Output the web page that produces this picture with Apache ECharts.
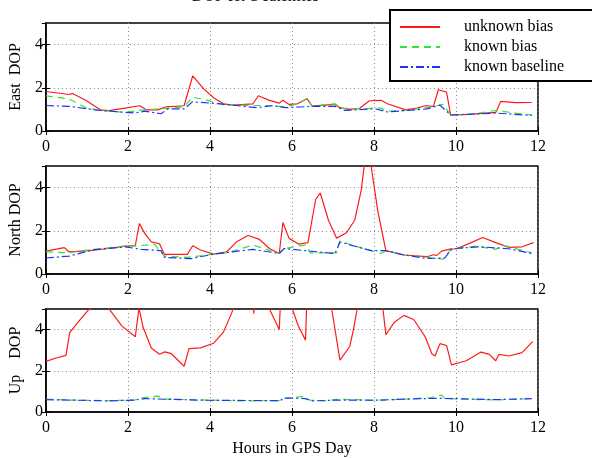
<!DOCTYPE html>
<html>
<head>
<meta charset="utf-8">
<script src="https://cdn.jsdelivr.net/npm/echarts@6/dist/echarts.min.js"></script>
<style>
  html, body { margin: 0; padding: 0; background: #fff; }
  #chart { width: 592px; height: 458px; }
</style>
</head>
<body>
<div id="chart"></div>
<script>
// [hours, DOP] pairs
const eastUnknown = [[0,1.83],[0.57,1.69],[0.65,1.74],[0.97,1.42],[1.33,0.98],[1.53,0.94],[1.93,1.06],[2.29,1.17],[2.45,0.98],[2.73,0.98],[2.93,1.12],[3.37,1.17],[3.58,2.55],[3.85,1.95],[4.09,1.54],[4.33,1.26],[4.57,1.2],[5.05,1.26],[5.18,1.63],[5.45,1.42],[5.69,1.29],[5.78,1.42],[5.93,1.23],[6.13,1.26],[6.37,1.49],[6.49,1.15],[7.05,1.23],[7.17,1.08],[7.37,1.0],[7.65,1.05],[7.89,1.4],[8.17,1.42],[8.33,1.26],[8.77,0.98],[9.05,1.06],[9.25,1.17],[9.45,1.14],[9.57,1.91],[9.77,1.8],[9.87,0.74],[10.33,0.77],[10.97,0.86],[11.09,1.37],[11.45,1.31],[11.85,1.32]];
const eastKnownBias = [[0,1.63],[0.57,1.48],[0.97,1.08],[1.33,0.95],[1.93,0.86],[2.25,0.95],[2.73,1.02],[3.37,1.11],[3.57,1.57],[3.93,1.42],[4.33,1.22],[5.05,1.18],[5.53,1.18],[5.85,1.11],[6.09,1.23],[6.37,1.51],[6.49,1.15],[7.05,1.26],[7.21,1.05],[7.69,1.03],[8.17,1.06],[8.33,0.92],[8.73,0.95],[9.29,1.08],[9.69,1.23],[9.87,0.74],[10.33,0.77],[10.97,0.95],[11.45,0.83],[11.85,0.74]];
const eastBaseline = [[0,1.18],[0.57,1.14],[1.33,0.95],[2.17,0.83],[2.41,0.92],[2.81,0.8],[2.97,1.02],[3.37,1.02],[3.57,1.35],[4.25,1.26],[5.13,1.08],[5.53,1.17],[5.85,1.08],[6.17,1.11],[6.49,1.14],[7.05,1.14],[7.29,0.95],[8.01,1.03],[8.33,0.88],[9.29,1.02],[9.61,1.2],[9.87,0.74],[10.97,0.83],[11.85,0.72]];

const northUnknown = [[0,1.06],[0.45,1.22],[0.57,1.02],[1.05,1.08],[1.53,1.18],[1.93,1.29],[2.18,1.32],[2.28,2.34],[2.41,1.88],[2.57,1.49],[2.77,1.4],[2.89,0.91],[3.45,0.91],[3.58,1.31],[3.77,1.11],[4.09,0.92],[4.41,1.03],[4.65,1.49],[4.93,1.78],[5.21,1.6],[5.45,1.18],[5.69,0.95],[5.78,2.38],[5.93,1.65],[6.17,1.38],[6.39,1.45],[6.58,3.46],[6.69,3.75],[6.89,2.49],[7.09,1.66],[7.33,1.91],[7.53,2.49],[7.69,3.88],[7.8,5.6],[7.9,5.4],[8.09,2.95],[8.29,1.08],[8.73,0.88],[9.29,0.8],[9.45,0.89],[9.53,0.86],[9.65,1.06],[9.85,1.15],[10.01,1.17],[10.33,1.42],[10.65,1.69],[10.97,1.45],[11.29,1.23],[11.61,1.26],[11.89,1.45]];
const northKnownBias = [[0,1.03],[0.57,0.98],[1.13,1.14],[1.93,1.29],[2.18,1.29],[2.65,1.38],[2.81,0.98],[2.89,0.83],[3.45,0.77],[4.09,0.92],[4.41,0.98],[5.05,1.34],[5.69,0.95],[5.81,1.18],[6.33,1.34],[6.45,0.98],[7.09,0.98],[7.17,1.54],[7.45,1.34],[8.17,0.95],[8.29,1.08],[8.73,0.88],[9.29,0.77],[9.69,0.69],[9.85,1.08],[10.01,1.17],[10.49,1.29],[10.97,1.14],[11.13,1.34],[11.85,0.98]];
const northBaseline = [[0,0.74],[0.57,0.83],[1.13,1.11],[1.93,1.26],[2.33,1.14],[2.81,1.08],[2.89,0.77],[3.53,0.71],[4.09,0.92],[5.05,1.14],[5.69,0.95],[5.81,1.18],[6.33,1.08],[7.05,0.95],[7.17,1.48],[7.93,1.08],[8.29,1.08],[8.73,0.88],[9.29,0.72],[9.73,0.74],[9.89,1.17],[10.57,1.26],[11.29,1.17],[11.85,0.95]];

const upUnknown = [[0,2.46],[0.25,2.62],[0.49,2.75],[0.58,3.85],[0.81,4.42],[1.05,4.98],[1.3,5.3],[1.53,5.03],[1.85,4.18],[2.18,3.65],[2.27,5.05],[2.37,4.11],[2.57,3.11],[2.77,2.8],[2.9,2.92],[3.06,2.83],[3.37,2.22],[3.49,3.08],[3.77,3.11],[4.09,3.34],[4.33,3.88],[4.53,4.8],[4.8,6.5],[5.03,6.5],[5.07,4.77],[5.11,6.5],[5.3,6.2],[5.45,5.0],[5.69,4.0],[5.72,5.3],[5.85,6.5],[6.01,5.0],[6.15,4.2],[6.33,3.49],[6.36,5.2],[6.6,7.0],[6.97,5.0],[7.17,2.52],[7.41,3.18],[7.5,4.0],[7.59,5.0],[7.8,7.0],[8.1,6.5],[8.22,5.0],[8.29,3.75],[8.49,4.34],[8.73,4.69],[8.97,4.49],[9.25,3.65],[9.41,2.83],[9.49,2.72],[9.61,3.32],[9.77,3.23],[9.89,2.29],[10.25,2.49],[10.61,2.91],[10.81,2.8],[10.97,2.49],[11.05,2.8],[11.29,2.72],[11.61,2.88],[11.87,3.42]];
const upKnownBias = [[0,0.62],[0.57,0.58],[1.53,0.55],[2.17,0.58],[2.33,0.69],[2.73,0.77],[2.89,0.63],[3.93,0.58],[4.73,0.54],[5.69,0.55],[5.85,0.68],[6.25,0.75],[6.45,0.57],[6.81,0.54],[7.17,0.62],[8.01,0.57],[8.73,0.62],[9.37,0.69],[9.65,0.82],[9.73,0.66],[10.97,0.58],[11.85,0.65]];
const upBaseline = [[0,0.6],[1.53,0.54],[2.17,0.58],[2.41,0.65],[2.89,0.62],[3.93,0.57],[5.69,0.55],[5.85,0.68],[6.33,0.65],[6.49,0.54],[7.13,0.58],[8.01,0.57],[9.13,0.65],[9.53,0.66],[9.93,0.65],[10.97,0.6],[11.85,0.65]];

const panelNames = ['East  DOP', 'North DOP', 'Up    DOP'];
const seriesNames = ['unknown bias', 'known bias', 'known baseline'];
const xTicks = [0, 2, 4, 6, 8, 10, 12];
const yTicks = [0, 2, 4];

const panels = [
  [eastUnknown, eastKnownBias, eastBaseline],
  [northUnknown, northKnownBias, northBaseline],
  [upUnknown, upKnownBias, upBaseline]
];

const font = 'Liberation Serif';
const lineStyles = [
  { color: '#ff1a1a', width: 1.2, type: 'solid' },
  { color: '#2ee82e', width: 1.2, type: [7, 5] },
  { color: '#2030ff', width: 1.2, type: [8, 3, 2, 3] }
];

const gridTops = [23, 166, 309];
const grids = gridTops.map(t => ({
  left: 39, width: 499, top: t, height: 108,
  show: true, borderColor: '#000', borderWidth: 1.5, backgroundColor: 'transparent'
}));

const xAxes = [];
const yAxes = [];
gridTops.forEach((t, i) => {
  xAxes.push({
    type: 'value', gridIndex: i, min: 0, max: 12, interval: 2,
    name: i === 2 ? 'Hours in GPS Day' : '',
    nameLocation: 'middle', nameGap: 29,
    nameTextStyle: { fontFamily: font, fontSize: 16, color: '#000' },
    axisLine: { lineStyle: { color: '#000', width: 1.5 } },
    axisTick: { inside: true, length: 4, lineStyle: { color: '#000' } },
    axisLabel: { fontFamily: font, fontSize: 16, color: '#000', margin: 8,
      formatter: v => xTicks.includes(v) ? String(v) : '' },
    splitLine: { show: true, lineStyle: { color: '#888', type: [1, 3] } }
  });
  xAxes.push({
    type: 'value', gridIndex: i, min: 0, max: 12, interval: 2, position: 'top',
    axisLine: { show: false },
    axisTick: { inside: true, length: 4, lineStyle: { color: '#000' } },
    axisLabel: { show: false }, splitLine: { show: false }
  });
  yAxes.push({
    type: 'value', gridIndex: i, min: 0, max: 5, interval: 2,
    name: panelNames[i], nameLocation: 'middle', nameGap: 16, nameRotate: 90,
    nameTextStyle: { fontFamily: font, fontSize: 16, color: '#000' },
    axisLine: { show: true, lineStyle: { color: '#000', width: 1.5 } },
    axisTick: { show: true, inside: true, length: 4, lineStyle: { color: '#000' } },
    axisLabel: { fontFamily: font, fontSize: 16, color: '#000', margin: 3, showMaxLabel: false,
      formatter: v => yTicks.includes(v) ? String(v) : '' },
    splitLine: { show: true, showMaxLine: false, lineStyle: { color: '#888', type: [1, 3] } }
  });
  yAxes.push({
    type: 'value', gridIndex: i, min: 0, max: 5, interval: 2, position: 'right',
    axisLine: { show: false },
    axisTick: { show: true, inside: true, length: 4, lineStyle: { color: '#000' } },
    axisLabel: { show: false }, splitLine: { show: false }
  });
});

const series = [];
panels.forEach((sets, i) => {
  sets.forEach((data, k) => {
    series.push({
      name: seriesNames[k], type: 'line', data: data,
      xAxisIndex: i * 2, yAxisIndex: i * 2,
      symbol: 'none', showSymbol: false, clip: true, animation: false,
      lineStyle: lineStyles[k], itemStyle: { color: lineStyles[k].color }
    });
  });
});

const chart = echarts.init(document.getElementById('chart'));
chart.setOption({
  animation: false,
  backgroundColor: '#fff',
  grid: grids,
  xAxis: xAxes,
  yAxis: yAxes,
  legend: {
    data: seriesNames, orient: 'vertical', left: 389, top: 9, z: 20,
    padding: [10, 10, 11, 10], itemGap: 4, itemWidth: 40, itemHeight: 14,
    itemStyle: { opacity: 0 },
    textStyle: { fontFamily: font, fontSize: 16, color: '#000', padding: [0, 0, 0, 19] }
  },
  graphic: [
    // legend frame runs off the right edge, as in the original figure
    { type: 'rect', left: 389, top: 9, z: 10,
      shape: { width: 240, height: 71 },
      style: { fill: '#fff', stroke: '#000', lineWidth: 2 } },
    { type: 'text', left: 192, top: -11, z: 100,
      style: { text: 'DOP for 3 satellites', font: '16px "Liberation Serif"', fill: '#000' } },
    { type: 'text', left: 26, top: -16, z: 100,
      style: { text: 'Figure', font: '16px "Liberation Serif"', fill: '#000' } }
  ],
  series: series
});
</script>
</body>
</html>
